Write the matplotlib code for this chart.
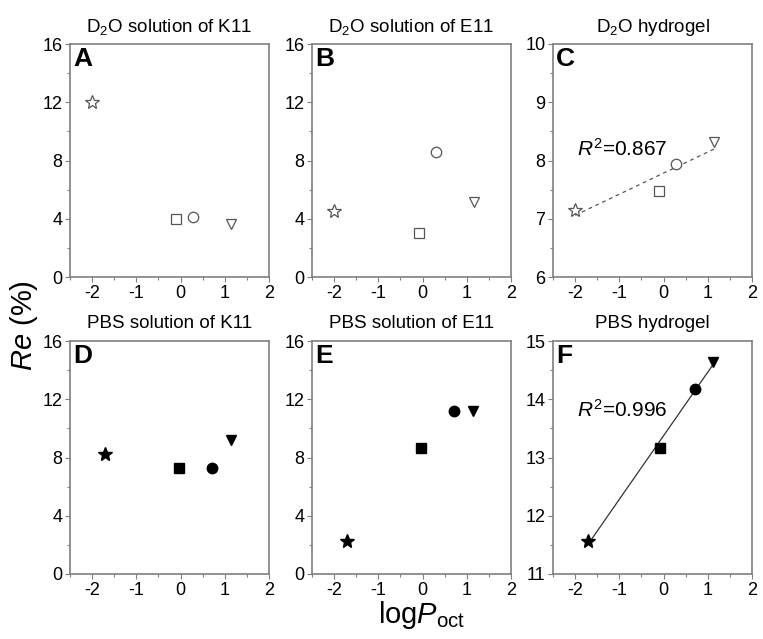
import matplotlib
matplotlib.use("Agg")
import matplotlib.pyplot as plt
import numpy as np
from matplotlib.ticker import MultipleLocator

plt.rcParams["font.family"] = ["Liberation Sans", "DejaVu Sans"]
plt.rcParams["mathtext.fontset"] = "custom"
plt.rcParams["mathtext.rm"] = "Liberation Sans"
plt.rcParams["mathtext.it"] = "Liberation Sans:italic"
plt.rcParams["axes.unicode_minus"] = False

# logPoct of the four residues (star, square, circle, triangle)
MARKERS = ["*", "s", "o", "v"]

x_A = [-2.0, -0.11, 0.28, 1.15]
y_A = [12.0, 3.95, 4.1, 3.65]
x_B = [-2.0, -0.09, 0.30, 1.17]
y_B = [4.5, 3.0, 8.55, 5.15]
x_C = [-2.0, -0.10, 0.28, 1.15]
y_C = [7.15, 7.48, 7.94, 8.32]
x_D = [-1.7, -0.04, 0.70, 1.13]
y_D = [8.25, 7.25, 7.25, 9.2]
x_E = [-1.7, -0.04, 0.72, 1.14]
y_E = [2.28, 8.68, 11.22, 11.2]
x_F = [-1.7, -0.07, 0.70, 1.12]
y_F = [11.57, 13.16, 14.18, 14.64]

TITLES = ["D$_2$O solution of K11", "D$_2$O solution of E11", "D$_2$O hydrogel",
          "PBS solution of K11", "PBS solution of E11", "PBS hydrogel"]
LETTERS = ["A", "B", "C", "D", "E", "F"]
YLIMS = [(0, 16), (0, 16), (6, 10), (0, 16), (0, 16), (11, 15)]
YSTEP = [4, 4, 1, 4, 4, 1]
R2_TEXT = {2: ("0.867", -1.95, 8.2), 5: ("0.996", -1.95, 13.82)}

SPINE = "#7f7f7f"
OPEN_EDGE = "#555555"

lefts = [70 / 763, 312 / 763, 553 / 763]
bottoms = [1 - 277 / 639, 1 - 574 / 639]
W, H = 199 / 763, 233 / 639

fig = plt.figure(figsize=(7.63, 6.39), dpi=100)
data = [(x_A, y_A), (x_B, y_B), (x_C, y_C), (x_D, y_D), (x_E, y_E), (x_F, y_F)]

for i, (xs, ys) in enumerate(data):
    row, col = divmod(i, 3)
    ax = fig.add_axes([lefts[col], bottoms[row], W, H])
    filled = row == 1

    # fit line for the hydrogel panels
    if i in R2_TEXT:
        k, b = np.polyfit(xs, ys, 1)
        xx = np.array([min(xs), max(xs)])
        ax.plot(xx, k * xx + b, color="#333333" if filled else "#555555",
                lw=0.9, ls="-" if filled else (0, (3, 3)), zorder=1)
        val, tx, ty = R2_TEXT[i]
        ax.text(tx, ty, f"$R^2$=" + val, fontsize=15, va="center", ha="left")

    for x, y, m in zip(xs, ys, MARKERS):
        ms = 10 if m == "*" else (6.5 if m == "s" else 7.5)
        if filled:
            ax.plot(x, y, m, ms=ms, color="black", mec="black", zorder=3)
        else:
            ax.plot(x, y, m, ms=ms, mfc="white", mec=OPEN_EDGE, mew=0.9, zorder=3)

    ax.set_xlim(-2.5, 2)
    ax.set_ylim(*YLIMS[i])
    ax.xaxis.set_major_locator(MultipleLocator(1))
    ax.xaxis.set_minor_locator(MultipleLocator(0.5))
    ax.yaxis.set_major_locator(MultipleLocator(YSTEP[i]))
    ax.yaxis.set_minor_locator(MultipleLocator(YSTEP[i] / 2))
    ax.set_xticks([-2, -1, 0, 1, 2])
    ax.tick_params(which="both", direction="out", colors=SPINE, labelcolor="black",
                   labelsize=13, top=False, right=False)
    ax.tick_params(which="major", length=3.5, width=0.8, pad=2)
    ax.tick_params(which="minor", length=2.5, width=0.8)
    for s in ax.spines.values():
        s.set_color(SPINE)
        s.set_linewidth(1.2)

    ax.set_title(TITLES[i], fontsize=13.5, pad=9)
    ax.text(0.015, 0.985, LETTERS[i], transform=ax.transAxes, fontsize=19,
            fontweight="bold", va="top", ha="left")

fig.text(0.032, 0.49, "$Re$ (%)", rotation=90, fontsize=21, va="center", ha="center")
fig.text(0.553, 0.038, "log$P_{\\mathrm{oct}}$", fontsize=21, va="center", ha="center")

fig.savefig("out.png", dpi=100)
